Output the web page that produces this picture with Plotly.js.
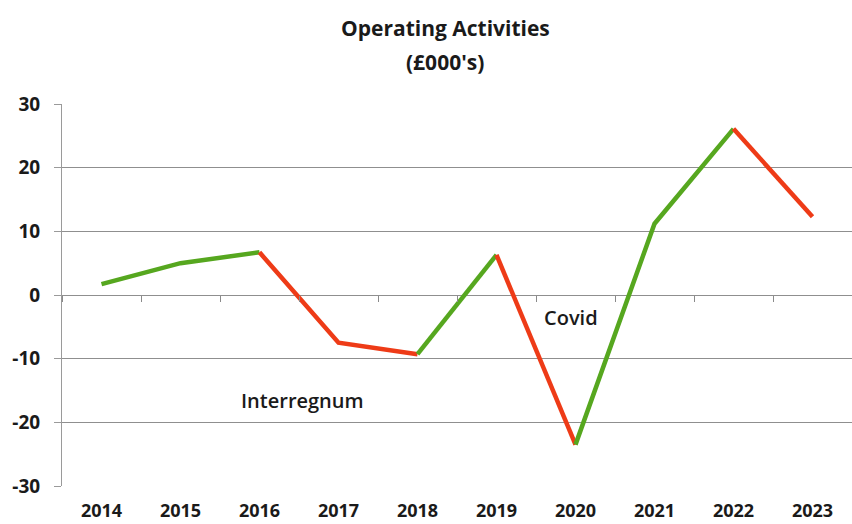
<!DOCTYPE html>
<html>
<head>
<meta charset="utf-8">
<script src="https://cdn.plot.ly/plotly-3.0.1.min.js"></script>
<style>html,body{margin:0;padding:0;background:#fff;}#chart{width:852px;height:524px;}</style>
</head>
<body>
<div id="chart"></div>
<script>
const years = ["2014","2015","2016","2017","2018","2019","2020","2021","2022","2023"];
const values = [1.7, 5.0, 6.7, -7.5, -9.3, 6.3, -23.5, 11.2, 26.1, 12.3];
const yTicks = [-30, -20, -10, 0, 10, 20, 30];
const yTickText = yTicks.map(String);
const titleLines = ["Operating Activities", "(£000's)"];
const riseColor = "#56a71f";
const fallColor = "#ee3b17";

const traces = [];
// group consecutive segments with the same direction into one trace
let start = 0;
for (let i = 1; i < values.length; i++) {
  const up = values[i] >= values[i-1];
  const nextUp = i + 1 < values.length ? values[i+1] >= values[i] : null;
  if (nextUp !== up) {
    traces.push({
      x: years.slice(start, i + 1),
      y: values.slice(start, i + 1),
      type: "scatter", mode: "lines",
      line: {color: up ? riseColor : fallColor, width: 4.5},
      hoverinfo: "skip", showlegend: false
    });
    start = i;
  }
}
// invisible trace for the crossing tick axis
traces.push({x: years, y: values, xaxis: "x2", type: "scatter", mode: "lines",
  line: {width: 0}, opacity: 0, hoverinfo: "skip", showlegend: false});

const txt = {color: "#1a1a1a", family: "Open Sans, Liberation Sans, sans-serif"};

const layout = {
  width: 852, height: 524,
  margin: {l: 62, r: 0, t: 104, b: 38},
  paper_bgcolor: "#ffffff", plot_bgcolor: "#ffffff",
  font: {family: "Open Sans, Liberation Sans, sans-serif", color: "#1a1a1a"},
  xaxis: {
    type: "category", categoryarray: years, range: [-0.5, 9.5],
    showgrid: false, zeroline: false, showline: false,
    ticks: "", tickfont: Object.assign({size: 18, weight: "bold"}, txt),
    ticklabelstandoff: 12, fixedrange: true
  },
  xaxis2: {
    type: "category", categoryarray: years, range: [-0.5, 9.5],
    overlaying: "x", anchor: "free", position: 0.5, side: "bottom",
    showgrid: false, zeroline: false, showline: false, showticklabels: false,
    ticks: "outside", ticklen: 6, tickwidth: 1, tickcolor: "#8a8a8a",
    tickson: "boundaries"
  },
  yaxis: {
    range: [-30, 30], tickmode: "array", tickvals: yTicks, ticktext: yTickText,
    showgrid: true, gridcolor: "#8f8f8f", gridwidth: 1,
    zeroline: true, zerolinecolor: "#8f8f8f", zerolinewidth: 1,
    showline: true, linecolor: "#9a9a9a", linewidth: 1,
    ticks: "outside", ticklen: 7, tickcolor: "#9a9a9a",
    tickfont: Object.assign({size: 19, weight: "bold"}, txt),
    ticklabelstandoff: 10, fixedrange: true
  },
  annotations: [
    {text: "<b>" + titleLines[0] + "</b>", x: 0.485, y: 1.199, xref: "paper", yref: "paper",
     yanchor: "middle", showarrow: false, font: Object.assign({size: 21}, txt)},
    {text: "<b>" + titleLines[1] + "</b>", x: 0.485, y: 1.110, xref: "paper", yref: "paper",
     yanchor: "middle", showarrow: false, font: Object.assign({size: 21}, txt)},
    {text: "Covid", x: 5.94, y: -3.6, xref: "x", yref: "y", showarrow: false,
     font: Object.assign({size: 20, weight: 600}, txt)},
    {text: "Interregnum", x: 2.55, y: -16.5, xref: "x", yref: "y", showarrow: false,
     font: Object.assign({size: 20, weight: 600}, txt)}
  ]
};
Plotly.newPlot("chart", traces, layout, {displayModeBar: false, staticPlot: true});
</script>
</body>
</html>
